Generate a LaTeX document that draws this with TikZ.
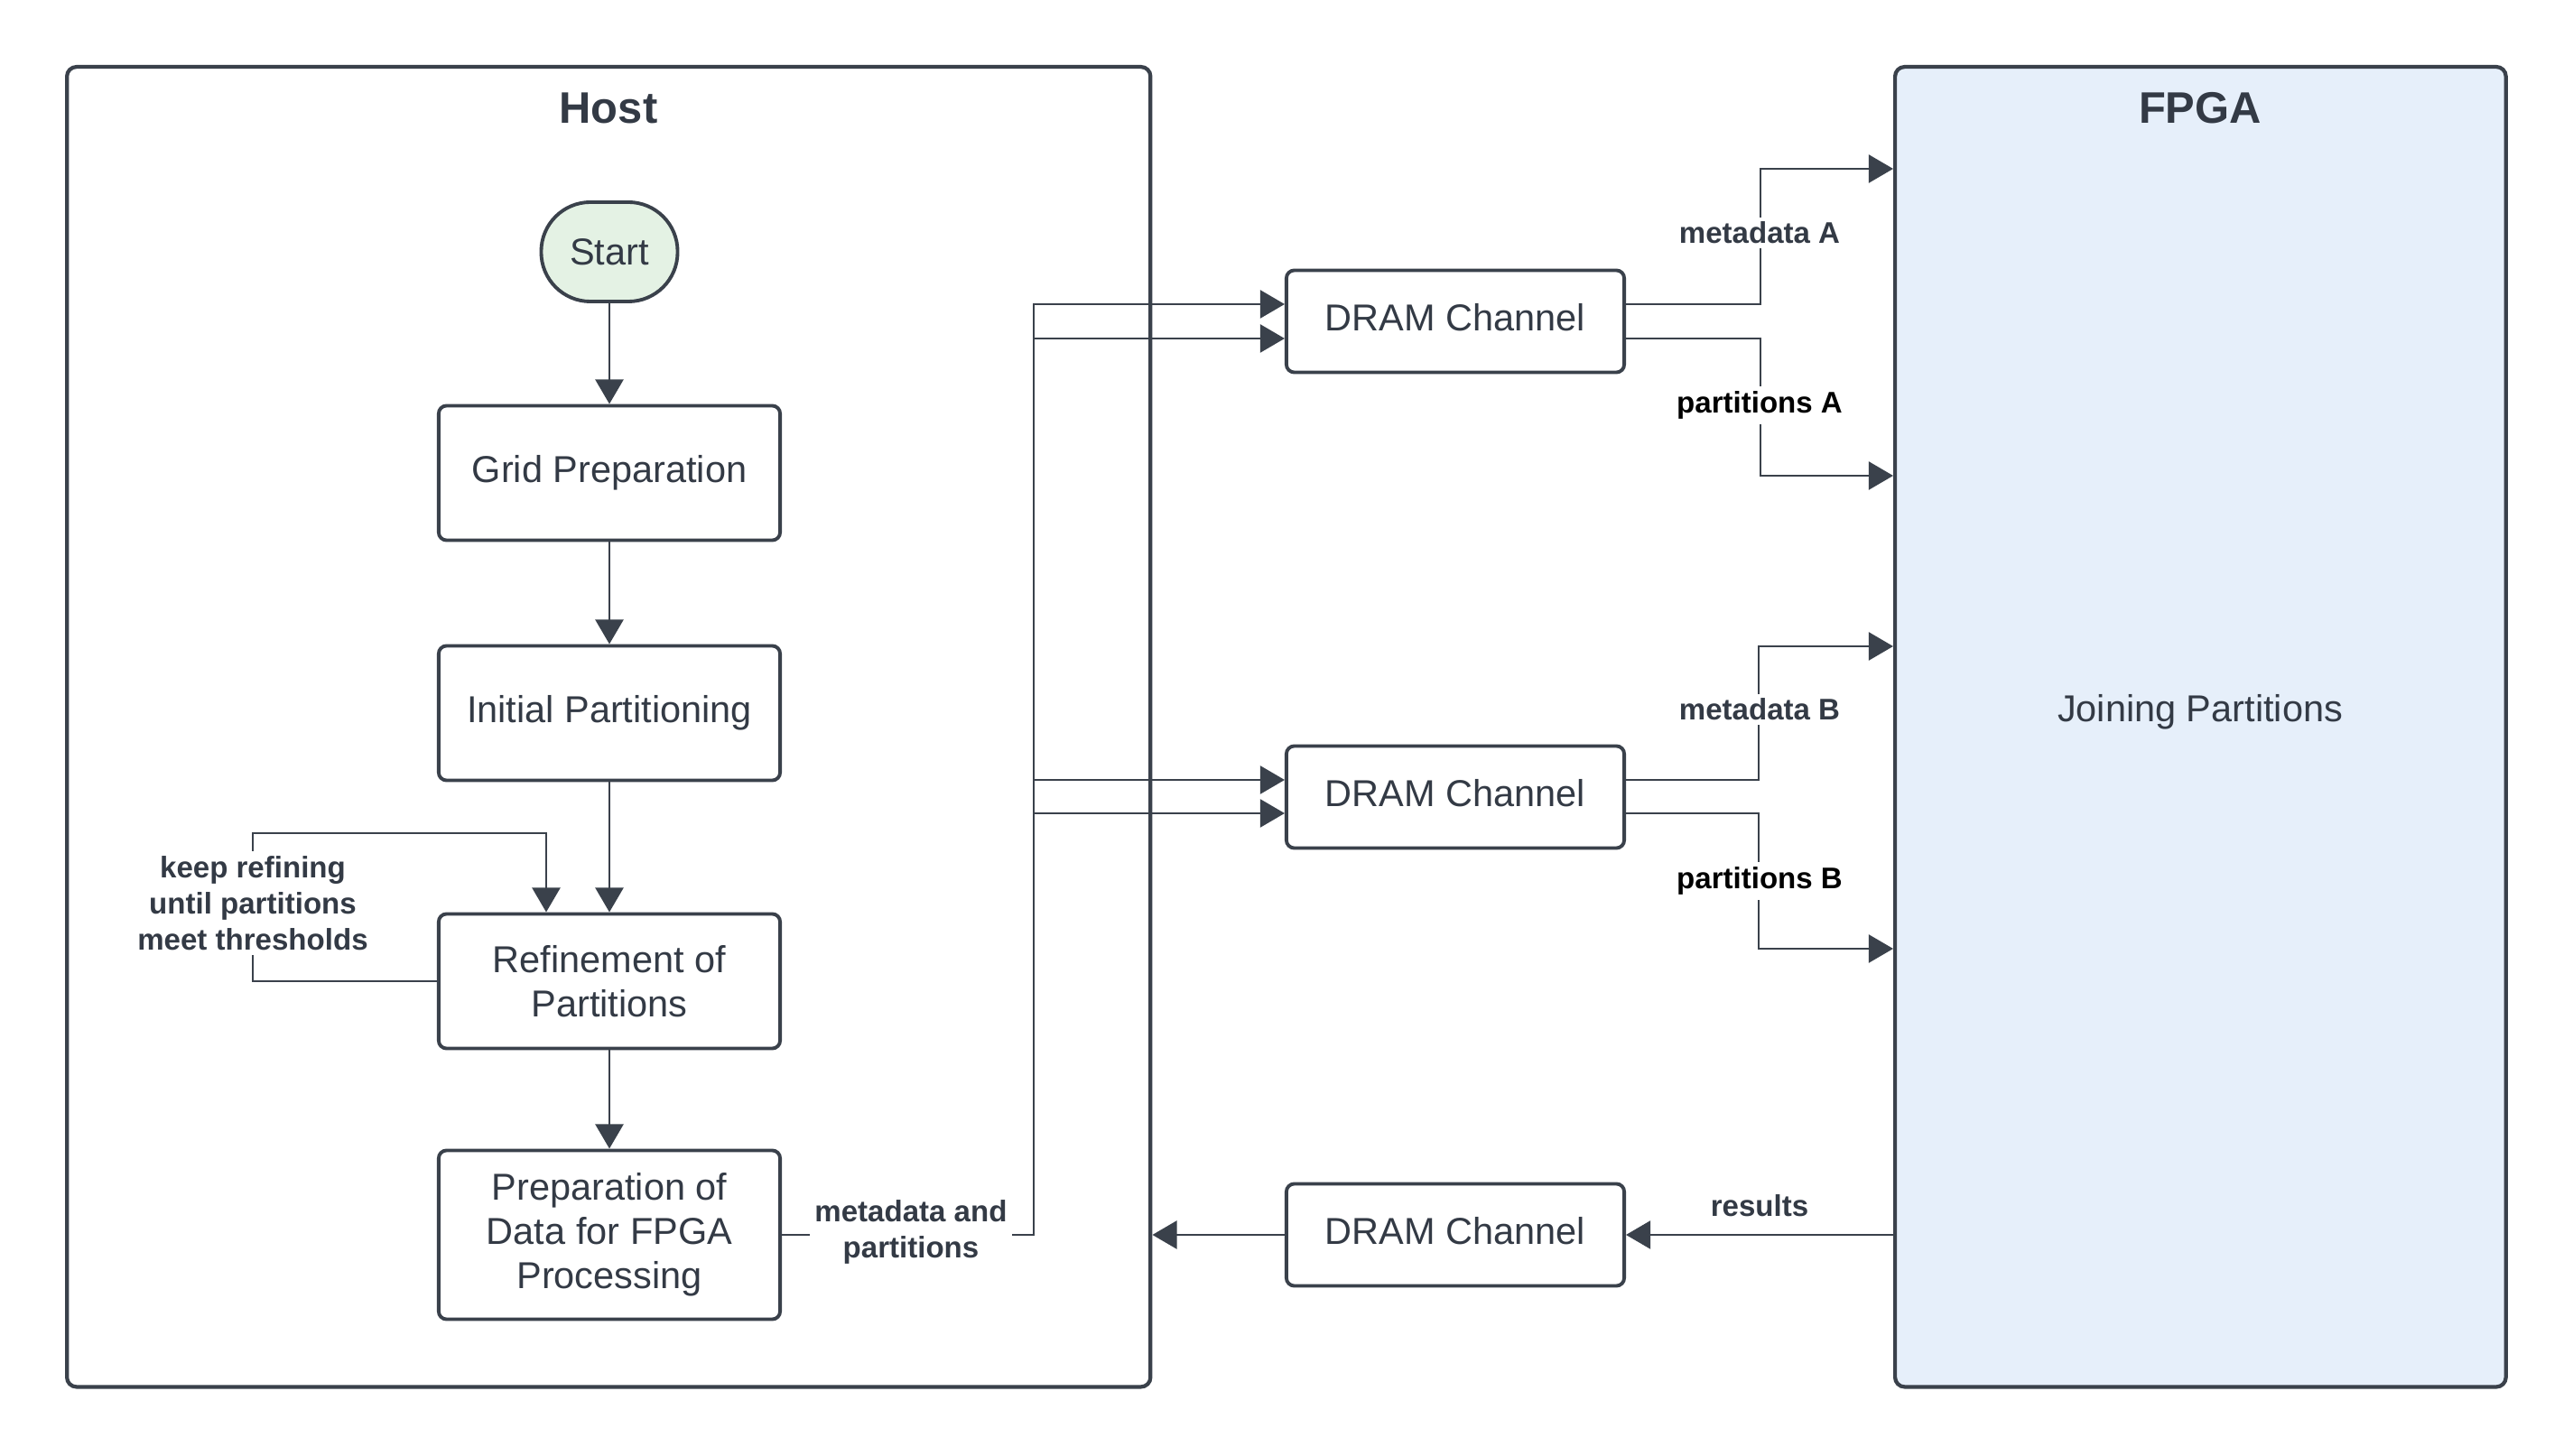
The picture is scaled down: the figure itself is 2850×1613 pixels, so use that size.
\documentclass[tikz,border=0pt]{standalone}
\usepackage{fontspec}
\setmainfont{Liberation Sans}
\usetikzlibrary{arrows.meta,calc}
\definecolor{edge}{HTML}{3A414B}
\definecolor{ink}{HTML}{333A45}
\definecolor{fpgafill}{HTML}{E6EFFA}
\definecolor{startfill}{HTML}{E4F2E4}
\tikzset{
  container/.style={draw=edge, line width=1.2pt, rounded corners=3pt, inner sep=0pt},
  box/.style={draw=edge, line width=1.1pt, rounded corners=2.5pt, fill=white, text=ink, align=center,
    font=\fontsize{11.8}{13.9}\selectfont, inner sep=0pt, minimum width=3.78cm, minimum height=1.49cm},
  dram/.style={box, minimum width=3.74cm, minimum height=1.13cm, text depth=0.25em},
  titletext/.style={text=ink, font=\bfseries\fontsize{13.9}{16}\selectfont},
  plaintext/.style={text=ink, font=\fontsize{11.8}{13.9}\selectfont},
  conn/.style={draw=edge, line width=0.75pt, -{Triangle[length=7.7pt,width=8.8pt]}},
  lbl/.style={font=\bfseries\fontsize{9.4}{11.4}\selectfont, text=ink, fill=white, inner sep=1.5pt, align=center},
  lblk/.style={lbl, text=black}
}
\begin{document}
\begin{tikzpicture}[x=0.01cm,y=-0.01cm]
\useasboundingbox (0,0) rectangle (2850,1613);
\fill[white] (0,0) rectangle (2850,1613);

% containers
\node[container, minimum width=11.995cm, minimum height=14.615cm] (host) at (674.25,805.25) {};
\node[titletext] (hosttitle) at (674,120) {Host};
\node[container, fill=fpgafill, minimum width=6.762cm, minimum height=14.615cm] (fpga) at (2437.4,805.25) {};
\node[titletext] (fpgatitle) at (2437,120) {FPGA};
\node[plaintext] (join) at (2437,789) {Joining Partitions};

% host flow
\node[box, fill=startfill, rounded corners=15.5pt, minimum width=1.51cm, minimum height=1.10cm] (start) at (675,279) {Start};
\node[box] (grid) at (675,524) {Grid Preparation};
\node[box] (init) at (675,790) {Initial Partitioning};
\node[box] (ref) at (675,1087) {Refinement of\\Partitions};
\node[box, minimum height=1.87cm] (prep) at (675,1368) {Preparation of\\Data for FPGA\\Processing};

% DRAM channels
\node[dram] (d1) at (1612,356) {DRAM Channel};
\node[dram] (d2) at (1612,883) {DRAM Channel};
\node[dram] (d3) at (1612,1368) {DRAM Channel};

% flow connectors
\draw[conn] (start) -- (grid);
\draw[conn] (grid) -- (init);
\draw[conn] (init) -- (ref);
\draw[conn] (ref) -- (prep);
\coordinate (loopA) at (280,923);
\draw[conn] (ref.west) -| (loopA) -| ($(ref.north)+(-70,0)$);
\node[lbl] (keep) at (280,1001) {keep refining\\until partitions\\meet thresholds};

% bus to DRAM channels
\coordinate (bus) at (1145,1368);
\draw[conn] (prep.east) -- (bus) |- ($(d1.west)+(0,-19)$);
\draw[conn] (bus) |- ($(d1.west)+(0,19)$);
\draw[conn] (bus) |- ($(d2.west)+(0,-19)$);
\draw[conn] (bus) |- ($(d2.west)+(0,18)$);
\node[lbl] (mdp) at (1009,1365) {metadata and\\partitions};

% DRAM to FPGA
\coordinate (ma) at (1950,187);
\coordinate (pa) at (1950,527);
\coordinate (mb) at (1948,716);
\coordinate (pb) at (1948,1051);
\draw[conn] ($(d1.east)+(0,-19)$) -| (ma) -- (fpga.west |- ma);
\draw[conn] ($(d1.east)+(0,19)$) -| (pa) -- (fpga.west |- pa);
\draw[conn] ($(d2.east)+(0,-19)$) -| (mb) -- (fpga.west |- mb);
\draw[conn] ($(d2.east)+(0,18)$) -| (pb) -- (fpga.west |- pb);
\node[lbl] (lma) at (1949,258) {metadata A};
\node[lblk] (lpa) at (1949,449) {partitions A};
\node[lbl] (lmb) at (1949,786) {metadata B};
\node[lblk] (lpb) at (1949,976) {partitions B};

% results back to host
\draw[conn] (fpga.west |- d3.east) -- (d3.east);
\draw[conn] (d3.west) -- (host.east |- d3.west);
\node[lbl, fill=none] (lres) at (1949,1336) {results};
\end{tikzpicture}
\end{document}
